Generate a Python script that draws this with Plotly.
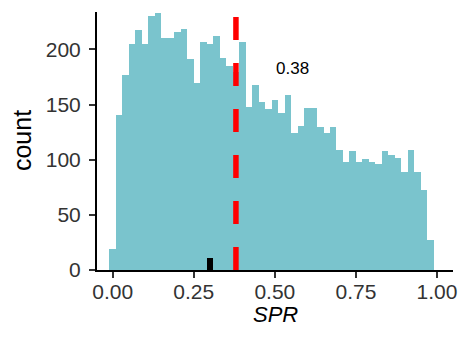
import numpy as np
import plotly.graph_objects as go

# Histogram of SPR: 50 bins of width 0.02, centred at 0.00, 0.02, ..., 0.98
bin_width = 0.02
n_bins = 50
counts = [19, 141, 177, 205, 218, 205, 230, 233, 210, 210,
          216, 219, 191, 170, 207, 205, 212, 192, 185, 180,
          207, 148, 168, 152, 146, 154, 142, 159, 124, 131,
          147, 147, 130, 124, 130, 109, 98, 108, 98, 101,
          98, 96, 108, 104, 102, 89, 109, 89, 73, 27]
bin_centers = np.arange(n_bins) * bin_width

# highlighted subset bar
sub_x = [0.30]
sub_count = [11]
sub_width = 0.0165

threshold = 0.38
threshold_label = "0.38"

x_ticks = [0.0, 0.25, 0.5, 0.75, 1.0]
x_ticktext = ["0.00", "0.25", "0.50", "0.75", "1.00"]
y_ticks = [0, 50, 100, 150, 200]

FONT = "Liberation Sans, Arial, Helvetica"

fig = go.Figure()
fig.add_trace(go.Bar(x=bin_centers, y=counts, width=bin_width,
                     marker=dict(color="#7AC4CD", line=dict(width=0)),
                     showlegend=False))
fig.add_trace(go.Bar(x=sub_x, y=sub_count, width=sub_width,
                     marker=dict(color="#000000", line=dict(width=0)),
                     showlegend=False))
fig.add_trace(go.Scatter(x=[threshold, threshold], y=[0, 234], mode="lines",
                         line=dict(color="#FF0000", width=5.5, dash="23px,23px"),
                         showlegend=False, hoverinfo="skip"))
fig.add_annotation(x=0.555, y=183, text=threshold_label, showarrow=False,
                   font=dict(size=17, color="#000000", family=FONT))

# axis titles
fig.add_annotation(xref="paper", yref="paper", x=0.5, y=-44 / 258,
                   text="<i>SPR</i>", showarrow=False, xanchor="center", yanchor="middle",
                   font=dict(size=22, color="#000000", family=FONT))
fig.add_annotation(xref="paper", yref="paper", x=-(97 - 22) / 356.3, y=0.5,
                   text="count", showarrow=False, textangle=-90,
                   xanchor="center", yanchor="middle",
                   font=dict(size=25, color="#000000", family=FONT))

axis_common = dict(showline=True, linecolor="#000000", linewidth=2,
                   ticks="outside", ticklen=6, tickwidth=2, tickcolor="#333333",
                   showgrid=False, zeroline=False, automargin=False,
                   tickfont=dict(size=21, color="#333333", family=FONT))

fig.update_layout(
    width=461, height=339,
    margin=dict(l=97, r=8, t=12, b=69),
    paper_bgcolor="white", plot_bgcolor="white",
    barmode="overlay", bargap=0,
    xaxis=dict(range=[-0.0484, 1.0493], tickvals=x_ticks, ticktext=x_ticktext,
               ticklabelstandoff=-4, **axis_common),
    yaxis=dict(range=[0, 234], tickvals=y_ticks, ticklabelstandoff=4, **axis_common),
)

fig.write_html("out.html",
               config={"displayModeBar": False},
               post_script="document.body.style.margin='0px';"
                           "document.body.style.overflow='hidden';")
